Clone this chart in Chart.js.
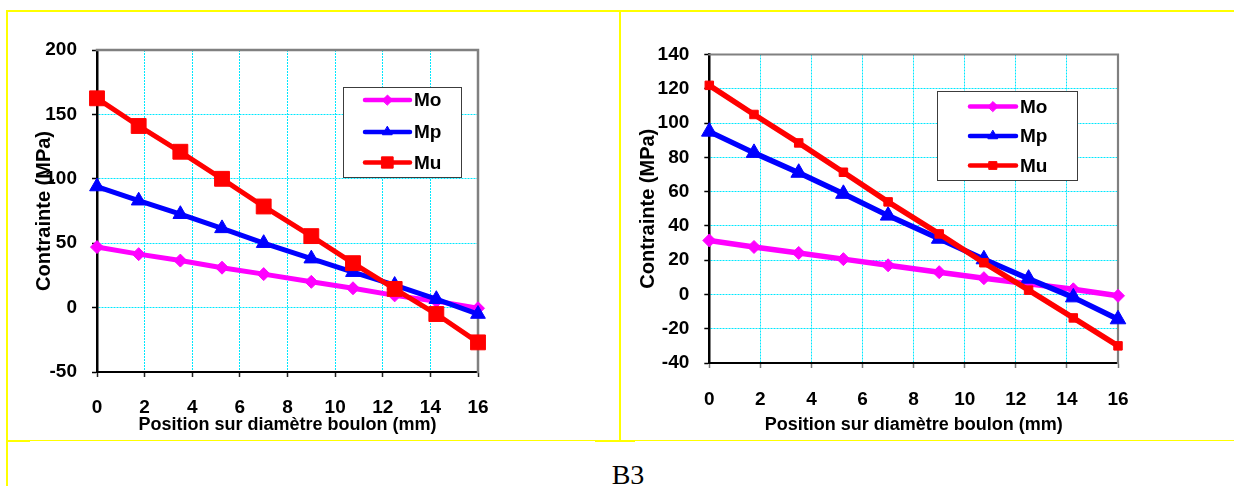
<!DOCTYPE html>
<html>
<head>
<meta charset="utf-8">
<title>Contrainte le long du diamètre du boulon</title>
<script src="https://cdn.jsdelivr.net/npm/chart.js@4.4.1/dist/chart.umd.min.js"></script>
<style>
  html, body { margin: 0; padding: 0; background: #fff; }
  #page { position: relative; width: 1234px; height: 486px; overflow: hidden; background: #fff; }
  canvas { position: absolute; top: 0; }
  .rule { position: absolute; background: #ffff00; }
  #caption {
    position: absolute; left: 560px; width: 136px; top: 461px;
    text-align: center; color: #000;
    font: 28px/28px 'Liberation Serif', 'Times New Roman', serif;
  }
</style>
</head>
<body>
<div id="page">
  <canvas id="chartLeft" width="620" height="440" style="left:0px"></canvas>
  <canvas id="chartRight" width="614" height="440" style="left:620px"></canvas>

  <!-- table cell borders -->
  <div class="rule" style="left:7px;top:10px;width:1227px;height:2px"></div>
  <div class="rule" style="left:6px;top:10px;width:2px;height:476px"></div>
  <div class="rule" style="left:619px;top:10px;width:2px;height:431px"></div>
  <div class="rule" style="left:7px;top:440px;width:1227px;height:1px"></div>
  <div class="rule" style="left:7px;top:440px;width:23px;height:2px"></div>
  <div class="rule" style="left:595px;top:440px;width:40px;height:2px"></div>
  <div id="caption">B3</div>
</div>

<script>
// ---- data ----
const positions = [0, 1.75, 3.5, 5.25, 7, 9, 10.75, 12.5, 14.25, 16];   // mm along the bolt diameter
const seriesNames = ['Mo', 'Mp', 'Mu'];

// left panel (MPa)
const leftMo = [47, 41.5, 36.5, 31, 26, 20, 15, 9.5, 5, -0.5];
const leftMp = [94, 83, 72.5, 61.5, 50, 38, 27.5, 17.5, 6.5, -5];
const leftMu = [162.5, 141, 121, 100, 78.5, 55.5, 34.5, 14.5, -5, -27];

// right panel (MPa)
const rightMo = [31.5, 27.7, 24.2, 20.6, 17, 13, 9.5, 6.2, 3, -0.8];
const rightMp = [95, 82.6, 71, 58.7, 46, 32.5, 20.5, 9.2, -1.7, -14.5];
const rightMu = [122, 105, 88.4, 71.3, 54, 35.3, 18.5, 2.5, -13.7, -30];

// tick labels
const xTicks = [0, 2, 4, 6, 8, 10, 12, 14, 16];
const leftYTicks = [-50, 0, 50, 100, 150, 200];
const rightYTicks = [-40, -20, 0, 20, 40, 60, 80, 100, 120, 140];

const xTitle = 'Position sur diamètre boulon (mm)';
const yTitle = 'Contrainte (MPa)';

// ---- styling ----
const FONT = "'Liberation Sans', Arial, Helvetica, sans-serif";
const GRID = '#00e8ff';
const COLORS = { Mo: '#ff00ff', Mp: '#0000ff', Mu: '#ff0000' };
const SHAPES = { Mo: 'rectRot', Mp: 'triangle', Mu: 'rect' };
const LAYER = { Mo: 3, Mp: 2, Mu: 1 };   // Mu drawn on top

function buildDatasets(seriesValues, radii, lineWidth) {
  return seriesNames.map((name, i) => ({
    label: name,
    data: positions.map((x, j) => ({ x: x, y: seriesValues[i][j] })),
    borderColor: COLORS[name],
    backgroundColor: COLORS[name],
    pointBackgroundColor: COLORS[name],
    pointBorderColor: COLORS[name],
    pointStyle: SHAPES[name],
    pointRadius: radii[name],
    pointHoverRadius: radii[name],
    pointBorderWidth: 1,
    borderWidth: lineWidth,
    borderJoinStyle: 'round',
    tension: 0,
    fill: false,
    clip: false,
    order: LAYER[name]
  }));
}

// fallback marker drawing if helpers are unavailable
function drawMarker(ctx, style, r, x, y) {
  if (Chart.helpers && Chart.helpers.drawPoint) {
    Chart.helpers.drawPoint(ctx, { pointStyle: style, radius: r, borderWidth: 1, rotation: 0 }, x, y);
    return;
  }
  ctx.beginPath();
  if (style === 'rect') {
    const s = r * Math.SQRT1_2;
    ctx.rect(x - s, y - s, 2 * s, 2 * s);
  } else if (style === 'triangle') {
    ctx.moveTo(x, y - r);
    ctx.lineTo(x + r * 0.866, y + r / 2);
    ctx.lineTo(x - r * 0.866, y + r / 2);
    ctx.closePath();
  } else {
    ctx.moveTo(x, y - r); ctx.lineTo(x + r, y); ctx.lineTo(x, y + r); ctx.lineTo(x - r, y);
    ctx.closePath();
  }
  ctx.fill();
  ctx.stroke();
}

// grey plot-area frame (top/right) and the boxed legend
const panelDecor = {
  id: 'panelDecor',
  beforeDatasetsDraw(chart, args, opts) {
    const a = chart.chartArea, ctx = chart.ctx;
    ctx.save();
    ctx.strokeStyle = '#808080';
    ctx.lineWidth = opts.frameWidth;
    ctx.lineCap = 'square';
    ctx.beginPath();
    ctx.moveTo(a.left, a.top);
    ctx.lineTo(a.right, a.top);
    ctx.lineTo(a.right, a.bottom);
    ctx.stroke();
    ctx.restore();
  },
  afterDatasetsDraw(chart, args, opts) {
    const L = opts.legend, ctx = chart.ctx;
    ctx.save();
    ctx.fillStyle = '#ffffff';
    ctx.fillRect(L.x, L.y, L.w, L.h);
    ctx.strokeStyle = '#3c3c3c';
    ctx.lineWidth = 1;
    ctx.strokeRect(Math.round(L.x) + 0.5, Math.round(L.y) + 0.5, Math.round(L.w), Math.round(L.h));
    chart.data.datasets.forEach((ds, i) => {
      const y = L.rows[i];
      ctx.strokeStyle = ds.borderColor;
      ctx.lineWidth = L.lineWidth;
      ctx.lineCap = 'round';
      ctx.beginPath();
      ctx.moveTo(L.x1, y);
      ctx.lineTo(L.x2, y);
      ctx.stroke();
      ctx.fillStyle = ds.borderColor;
      ctx.lineWidth = 1;
      drawMarker(ctx, ds.pointStyle, L.radii[ds.label], (L.x1 + L.x2) / 2, y);
      ctx.fillStyle = '#000';
      ctx.font = 'bold 19px ' + FONT;
      ctx.textAlign = 'left';
      ctx.textBaseline = 'middle';
      ctx.fillText(ds.label, L.tx, y + 1);
    });
    ctx.restore();
  }
};

function buildChart(canvasId, datasets, yTicks, p) {
  const tickFont = { family: FONT, size: 19, weight: 'bold' };
  return new Chart(document.getElementById(canvasId), {
    type: 'line',
    data: { datasets: datasets },
    plugins: [panelDecor],
    options: {
      responsive: false,
      animation: false,
      devicePixelRatio: 1,
      events: [],
      layout: { padding: { left: 0, top: p.padTop, right: p.padRight, bottom: 0 } },
      plugins: {
        legend: { display: false },
        tooltip: { enabled: false },
        panelDecor: { frameWidth: p.frameWidth, legend: p.legend }
      },
      scales: {
        x: {
          type: 'linear',
          min: xTicks[0],
          max: xTicks[xTicks.length - 1],
          ticks: { stepSize: xTicks[1] - xTicks[0], color: '#000', font: tickFont, padding: p.xTickPad, maxRotation: 0, autoSkip: false },
          grid: { color: GRID, lineWidth: 1, tickLength: 5, tickColor: p.xTickColor, tickWidth: 1.5 },
          border: { display: true, color: '#000', width: 2, dash: [2, 1] },
          title: { display: true, text: xTitle, color: '#000', font: { family: FONT, size: 18, weight: 'bold' }, padding: { top: 0, bottom: 4 } },
          afterFit: s => { s.height = p.xHeight; }
        },
        y: {
          type: 'linear',
          min: yTicks[0],
          max: yTicks[yTicks.length - 1],
          ticks: { stepSize: yTicks[1] - yTicks[0], color: '#000', font: tickFont, padding: 15 },
          grid: { color: GRID, lineWidth: 1, tickLength: 5, tickColor: '#000', tickWidth: 1.5 },
          border: { display: true, color: '#000', width: 2.5, dash: [2, 1] },
          title: { display: true, text: yTitle, color: '#000', font: { family: FONT, size: 20, weight: 'bold' }, padding: { top: p.yTitlePad, bottom: 0 } },
          afterFit: s => { s.width = p.yWidth; }
        }
      }
    }
  });
}

buildChart('chartLeft',
  buildDatasets([leftMo, leftMp, leftMu], { Mo: 6.5, Mp: 8.5, Mu: 10.5 }, 5),
  leftYTicks,
  {
    padTop: 50, padRight: 142, yWidth: 97, xHeight: 68,
    xTickPad: 19, yTitlePad: 32, frameWidth: 2.5, xTickColor: '#222',
    legend: {
      x: 343, y: 87, w: 118, h: 90,
      rows: [100, 132, 162.5],
      x1: 365, x2: 410, tx: 414, lineWidth: 4.5,
      radii: { Mo: 5, Mp: 5.5, Mu: 8 }
    }
  });

buildChart('chartRight',
  buildDatasets([rightMo, rightMp, rightMu], { Mo: 6.5, Mp: 9, Mu: 6 }, 5.5),
  rightYTicks,
  {
    padTop: 54.5, padRight: 116, yWidth: 89.3, xHeight: 77,
    xTickPad: 20, yTitlePad: 16, frameWidth: 2.2, xTickColor: '#777',
    legend: {
      x: 317, y: 91, w: 140, h: 89,
      rows: [106.5, 136, 165.5],
      x1: 350, x2: 396, tx: 400, lineWidth: 4.5,
      radii: { Mo: 5, Mp: 5.5, Mu: 5.5 }
    }
  });
</script>
</body>
</html>
